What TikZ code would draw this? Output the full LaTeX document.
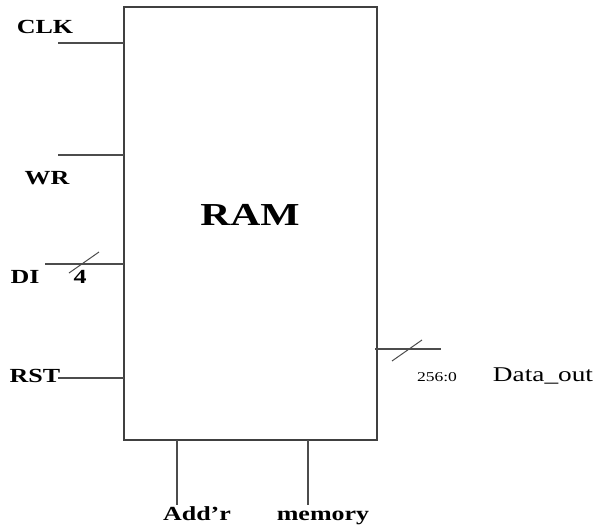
\documentclass[tikz,border=0pt]{standalone}
\usepackage{fontspec}
\setmainfont{Liberation Serif}[FakeStretch=1.3]
\begin{document}
\begin{tikzpicture}[x=1pt,y=-1pt,line width=1.3pt,every node/.style={inner sep=0pt,anchor=base},
  pin/.style={draw=black!70},
  lbl/.style={font=\fontsize{20}{22}\selectfont\bfseries},
  txt/.style={font=\fontsize{21}{23}\selectfont}]
\useasboundingbox (0,0) rectangle (600,527);
\draw[draw=black!75] (124,7) rectangle (377,440);
\node[font=\fontsize{32}{35}\selectfont\bfseries] (ram) at (250,225) {RAM};
% left pins
\coordinate (clka) at (58,43);   \coordinate (clkb) at (124,43);
\coordinate (wra) at (58,155);   \coordinate (wrb) at (124,155);
\coordinate (dia) at (45,264);   \coordinate (dib) at (124,264);
\coordinate (rsta) at (58,378);  \coordinate (rstb) at (124,378);
\draw[pin] (clka) -- (clkb);
\draw[pin] (wra) -- (wrb);
\draw[pin] (dia) -- (dib);
\draw[pin] (rsta) -- (rstb);
\coordinate (dis1) at (69,273); \coordinate (dis2) at (99,252);
\draw[pin,line width=1pt] (dis1) -- (dis2);
\node[lbl] (clk) at (45,34) {CLK};
\node[lbl] (wr) at (47,184) {WR};
\node[lbl] (di) at (25,283) {DI};
\node[lbl] (diw) at (80,283) {4};
\node[lbl] (rst) at (35,382) {RST};
% right pin
\coordinate (outa) at (375,349); \coordinate (outb) at (441,349);
\draw[pin] (outa) -- (outb);
\coordinate (outs1) at (392,361); \coordinate (outs2) at (422,340);
\draw[pin,line width=1pt] (outs1) -- (outs2);
\node[font=\fontsize{13.5}{15}\selectfont] (outw) at (437,381) {256:0};
\node[txt] (dout) at (543,381) {Data\_out};
% bottom pins
\coordinate (adda) at (177,440); \coordinate (addb) at (177,505);
\coordinate (mema) at (308,440); \coordinate (memb) at (308,505);
\draw[pin] (adda) -- (addb);
\draw[pin] (mema) -- (memb);
\node[lbl] (addr) at (197,520) {Add’r};
\node[lbl] (mem) at (323,520) {memory};
\end{tikzpicture}
\end{document}
